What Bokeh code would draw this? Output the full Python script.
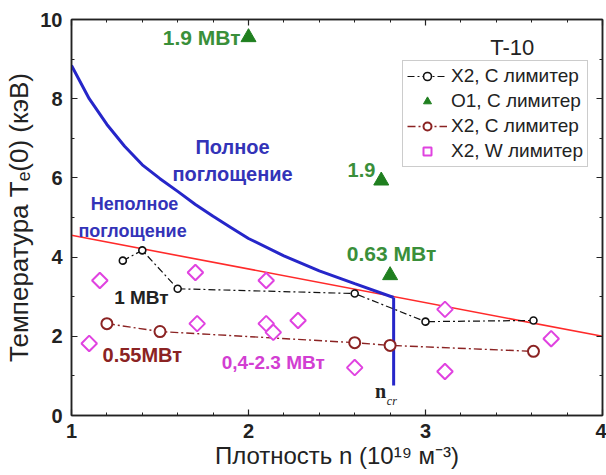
import math
from bokeh.plotting import figure
from bokeh.models import Label, Legend, LegendItem, LinearAxis, SingleIntervalTicker, Range1d
from bokeh.embed import file_html
from bokeh.resources import INLINE

# ---------------- data ----------------
curve_n = [1.0, 1.1, 1.2, 1.3, 1.4, 1.5, 1.6, 1.7, 1.8, 1.9, 2.0, 2.2, 2.4, 2.6, 2.82]
curve_T = [8.84, 8.0, 7.35, 6.8, 6.33, 5.98, 5.66, 5.33, 5.03, 4.75, 4.47, 4.03, 3.65, 3.33, 2.98]
ncr_n = [2.82, 2.82]
ncr_T = [2.98, 0.76]
edge_n = [1.0, 4.0]
edge_T = [4.55, 2.0]

x2c_black_n = [1.29, 1.40, 1.60, 2.60, 3.00, 3.61]
x2c_black_T = [3.91, 4.17, 3.20, 3.08, 2.37, 2.40]
o1_n = [2.00, 2.75, 2.80]
o1_T = [9.55, 5.93, 3.54]
x2c_brown_n = [1.20, 1.50, 2.60, 2.80, 3.61]
x2c_brown_T = [2.32, 2.12, 1.84, 1.77, 1.62]
x2w_n = [1.10, 1.16, 1.70, 1.71, 2.10, 2.10, 2.14, 2.28, 2.60, 3.11, 3.11, 3.71]
x2w_T = [1.82, 3.41, 3.61, 2.32, 3.41, 2.32, 2.10, 2.40, 1.21, 2.68, 1.11, 1.94]

legend_labels = ["X2, C лимитер", "O1, C лимитер", "X2, C лимитер", "X2, W лимитер"]
x_title = "Плотность n (10¹⁹ м⁻³)"
y_title = "Температура Tₑ(0) (кэВ)"

# ---------------- styles ----------------
FONT = "Liberation Sans"
BLUE = "#2626c9"
BLUE_T = "#3333b8"
GREEN = "#1f7f1f"
GREEN_T = "#3a8f3a"
RED = "#ff2a2a"
BROWN = "#8b2323"
MAG = "#e043e0"
MAG_T = "#d23ed2"
AX = "#222222"

p = figure(width=606, height=475, x_range=Range1d(1, 4), y_range=Range1d(0, 10),
           output_backend="svg", toolbar_location=None,
           min_border_left=71, min_border_right=4, min_border_top=19, min_border_bottom=60,
           background_fill_color="white", border_fill_color="white")
p.grid.visible = False
p.outline_line_color = AX
p.outline_line_width = 1.5

xa = p.below[0]
ya = p.left[0]
xa.ticker = SingleIntervalTicker(interval=1, num_minor_ticks=5)
ya.ticker = SingleIntervalTicker(interval=2, num_minor_ticks=2)

top = LinearAxis(ticker=SingleIntervalTicker(interval=1, num_minor_ticks=5))
right = LinearAxis(ticker=SingleIntervalTicker(interval=2, num_minor_ticks=2))
p.add_layout(top, "above")
p.add_layout(right, "right")

for ax in [xa, ya, top, right]:
    ax.major_tick_in = 6
    ax.major_tick_out = 0
    ax.minor_tick_in = 3
    ax.minor_tick_out = 0
    ax.axis_line_color = AX
    ax.axis_line_width = 1.5
    ax.major_tick_line_color = AX
    ax.minor_tick_line_color = AX
    ax.major_tick_line_width = 1.2
    ax.minor_tick_line_width = 1.0
    ax.major_label_text_font = FONT
    ax.major_label_text_font_style = "bold"
    ax.major_label_text_font_size = "20px"
    ax.major_label_text_color = AX
for ax in [top, right]:
    ax.major_label_text_font_size = "0px"
    ax.major_label_text_color = None
    ax.major_label_standoff = 0

xa.major_label_standoff = 8
ya.major_label_standoff = 9
xa.axis_label = x_title
ya.axis_label = y_title
for ax, sz in [(xa, "24px"), (ya, "26px")]:
    ax.axis_label_text_font = FONT
    ax.axis_label_text_font_style = "normal"
    ax.axis_label_text_font_size = sz
    ax.axis_label_text_color = AX
xa.axis_label_standoff = 1
ya.axis_label_standoff = 3

# ---------------- glyphs ----------------
p.line(edge_n, edge_T, line_color=RED, line_width=1.6)
p.line(curve_n, curve_T, line_color=BLUE, line_width=3)
p.line(ncr_n, ncr_T, line_color=BLUE, line_width=3)

l1 = p.line(x2c_black_n, x2c_black_T, line_color="#111111", line_width=1.2, line_dash="7 3 2 3")
s1 = p.scatter(x2c_black_n, x2c_black_T, marker="circle", size=7, line_color="#111111",
               line_width=1.6, fill_color="white")
s2 = p.scatter(o1_n, o1_T, marker="triangle", size=15, line_color=GREEN, fill_color=GREEN)
l3 = p.line(x2c_brown_n, x2c_brown_T, line_color=BROWN, line_width=1.4, line_dash="8 3 2 3")
s3 = p.scatter(x2c_brown_n, x2c_brown_T, marker="circle", size=11, line_color=BROWN,
               line_width=2, fill_color="white")
s4 = p.scatter(x2w_n, x2w_T, marker="square", angle=math.pi / 4, size=11, line_color=MAG,
               line_width=2, fill_color="white")

legend = Legend(items=[
    LegendItem(label=legend_labels[0], renderers=[l1, s1]),
    LegendItem(label=legend_labels[1], renderers=[s2]),
    LegendItem(label=legend_labels[2], renderers=[l3, s3]),
    LegendItem(label=legend_labels[3], renderers=[s4]),
], location=(331, 248))
legend.label_text_font = FONT
legend.label_text_font_size = "19px"
legend.label_text_color = AX
legend.border_line_color = "#9a9a9a"
legend.border_line_width = 1
legend.background_fill_color = "white"
legend.padding = 4
legend.spacing = 3
legend.margin = 0
legend.label_height = 20
legend.glyph_height = 20
legend.glyph_width = 40
legend.label_standoff = 4
p.add_layout(legend)

# ---------------- annotations ----------------
def lab(x, y, text, color, size, style="bold", align="center", baseline="middle", font=FONT):
    p.add_layout(Label(x=x, y=y, text=text, text_color=color, text_font=font,
                       text_font_size=size, text_font_style=style, text_align=align,
                       text_baseline=baseline))

lab(1.955, 9.55, "1.9 МВт", GREEN_T, "21px", align="right")
lab(2.638, 6.19, "1.9", GREEN_T, "20px")
lab(2.808, 4.09, "0.63 МВт", GREEN_T, "21px")
lab(1.91, 6.77, "Полное", BLUE_T, "20px")
lab(1.91, 6.11, "поглощение", BLUE_T, "20px")
lab(1.356, 5.35, "Неполное", BLUE_T, "18px")
lab(1.345, 4.67, "поглощение", BLUE_T, "18px")
lab(1.395, 2.98, "1 МВт", AX, "19px")
lab(1.40, 1.52, "0.55МВт", BROWN, "20px")
lab(2.14, 1.34, "0,4-2.3 МВт", MAG_T, "19px")
lab(3.49, 9.29, "T-10", AX, "22px", style="normal")
lab(2.746, 0.61, "n", AX, "20px", font="Liberation Serif")
lab(2.81, 0.36, "cr", AX, "12px", style="italic", font="Liberation Serif")

open("out.html", "w").write(file_html(p, INLINE))
